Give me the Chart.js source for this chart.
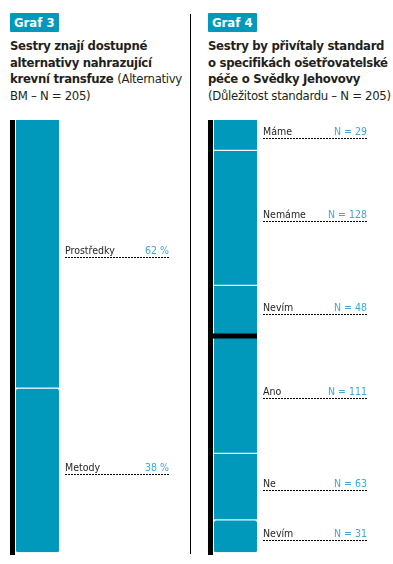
<!DOCTYPE html>
<html lang="cs">
<head>
<meta charset="utf-8">
<script src="https://cdn.jsdelivr.net/npm/chart.js@4/dist/chart.umd.min.js"></script>
<style>
  html, body { margin: 0; padding: 0; background: #fff; }
  body { width: 393px; height: 564px; position: relative; overflow: hidden;
    font-family: 'DejaVu Sans Condensed', 'Liberation Sans', sans-serif; color: #231f20; }
  .badge { position: absolute; top: 13px; height: 19px; line-height: 19px; padding: 0 4px;
    background: #0099bb; color: #fff; font-weight: bold; font-size: 13px; border-radius: 1px; }
  .title { position: absolute; top: 38px; font-size: 13px; line-height: 16.5px; font-weight: bold;
    white-space: nowrap; letter-spacing: -0.3px; }
  .title span { font-weight: normal; }
  .divider { position: absolute; left: 190px; top: 14px; width: 1px; height: 540px; background: #000; }
  canvas { position: absolute; top: 100px; }
</style>
</head>
<body>
<div class="badge" style="left:10px">Graf 3</div>
<div class="title" style="left:10px">Sestry znají dostupné<br>alternativy nahrazující<br>krevní transfuze <span>(Alternativy<br>BM – N = 205)</span></div>
<div class="badge" style="left:208px">Graf 4</div>
<div class="title" style="left:208px">Sestry by přivítaly standard<br>o specifikách ošetřovatelské<br>péče o Svědky Jehovovy<br><span>(Důležitost standardu – N = 205)</span></div>
<div class="divider"></div>
<canvas id="graf3" width="190" height="464" style="left:0"></canvas>
<canvas id="graf4" width="203" height="464" style="left:190px"></canvas>
<script>
// Graf 3 – alternativy (procenta)
const alternativyLabels = ['Prostředky', 'Metody']
const alternativyValues = [62, 38]
const alternativyText = ['62 %', '38 %']

// Graf 4 – důležitost standardu (počty)
const standardLabels = ['Máme', 'Nemáme', 'Nevím', 'Ano', 'Ne', 'Nevím']
const standardValues = [29, 128, 48, 111, 63, 31]
const standardText = ['N = 29', 'N = 128', 'N = 48', 'N = 111', 'N = 63', 'N = 31']
const standardGroupSize = 205

const config = {
  barColor: '#0099bb',
  labelColor: '#231f20',
  valueColor: '#41a7d6',
  font: "10.5px 'DejaVu Sans Condensed', sans-serif",
}

// popisky s tečkovanou čarou vpravo od sloupce
const labelsPlugin = {
  id: 'segmentLabels',
  afterDatasetsDraw(chart, args, opts) {
    const ctx = chart.ctx
    const first = chart.getDatasetMeta(0).data[0]
    const barLeft = first.x - first.width / 2
    const barRight = first.x + first.width / 2
    const yScale = chart.scales.y

    ctx.save()
    // černá svislá čára
    ctx.fillStyle = '#000'
    ctx.fillRect(barLeft - 6, yScale.top, 5, yScale.bottom - yScale.top + 2)

    // oddělovač skupin
    if (opts.groupBreak) {
      const yb = yScale.getPixelForValue(opts.groupBreak)
      ctx.fillRect(barLeft - 6, yb - 3, barRight - barLeft + 6, 5)
    }

    const x0 = barRight + 6
    const x1 = x0 + opts.lineWidth
    chart.data.datasets.forEach((ds, i) => {
      const el = chart.getDatasetMeta(i).data[0]
      const mid = (el.y + el.base) / 2
      ctx.font = config.font
      ctx.textBaseline = 'alphabetic'
      ctx.fillStyle = config.labelColor
      ctx.textAlign = 'left'
      ctx.fillText(ds.label, x0, mid)
      ctx.fillStyle = config.valueColor
      ctx.textAlign = 'right'
      ctx.fillText(opts.texts[i], x1, mid)

      ctx.strokeStyle = '#000'
      ctx.lineWidth = 1
      ctx.setLineDash([2, 1])
      ctx.beginPath()
      ctx.moveTo(x0, Math.round(mid + 3) + 0.5)
      ctx.lineTo(x1, Math.round(mid + 3) + 0.5)
      ctx.stroke()
      ctx.setLineDash([])
    })
    ctx.restore()
  },
}

function stackedBar(selector, labels, values, max, padding, pluginOpts) {
  const datasets = labels.map((label, i) => ({
    label,
    data: [values[i]],
    backgroundColor: config.barColor,
    borderColor: '#e8f4f8',
    borderWidth: { top: 0, left: 0, right: 0, bottom: 1 },
    borderSkipped: false,
    borderRadius: 2,
    categoryPercentage: 0.878,
    barPercentage: 1,
  }))

  return new Chart(document.querySelector(selector), {
    type: 'bar',
    data: { labels: [''], datasets },
    options: {
      responsive: false,
      animation: false,
      layout: { padding },
      plugins: {
        legend: { display: false },
        tooltip: { enabled: false },
        segmentLabels: pluginOpts,
      },
      scales: {
        x: { display: false, stacked: true },
        y: { display: false, stacked: true, reverse: true, min: 0, max },
      },
    },
    plugins: [labelsPlugin],
  })
}

stackedBar('#graf3', alternativyLabels, alternativyValues, 100,
  { left: 13, right: 128, top: 20, bottom: 11 },
  { texts: alternativyText, lineWidth: 104 })

stackedBar('#graf4', standardLabels, standardValues, standardGroupSize * 2,
  { left: 21, right: 133, top: 20, bottom: 11 },
  { texts: standardText, lineWidth: 104, groupBreak: standardGroupSize })
</script>
</body>
</html>
